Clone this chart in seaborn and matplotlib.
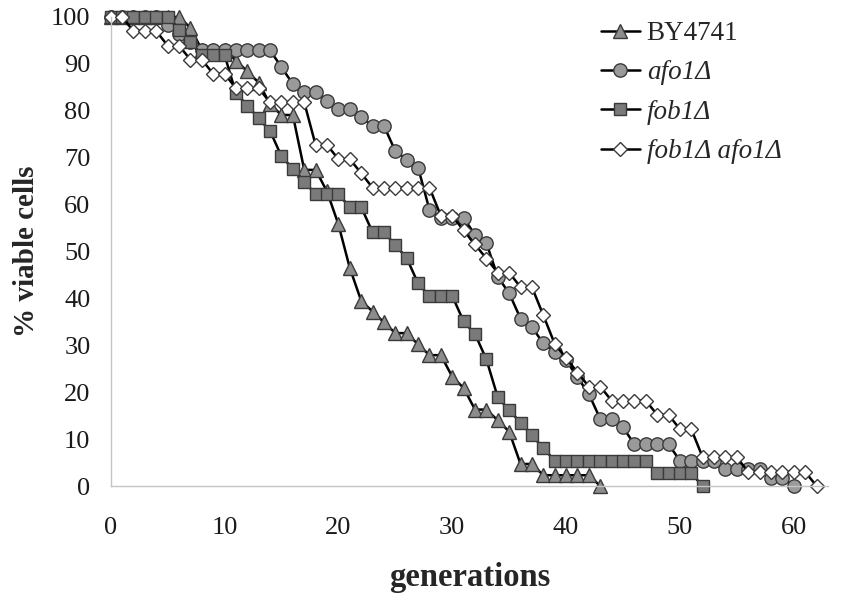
import matplotlib
matplotlib.use("Agg")
import matplotlib.pyplot as plt
import seaborn as sns

# Replicative lifespan survival curves (% viable cells per generation)
by4741_gen = [0, 1, 2, 3, 4, 5, 6, 7, 8, 9, 10, 11, 12, 13, 14, 15, 16, 17, 18, 19,
              20, 21, 22, 23, 24, 25, 26, 27, 28, 29, 30, 31, 32, 33, 34, 35, 36, 37,
              38, 39, 40, 41, 42, 43]
by4741_pct = [100, 100, 100, 100, 100, 100, 100, 97.7, 93.0, 93.0, 93.0, 90.7, 88.4,
              86.0, 81.4, 79.1, 79.1, 67.4, 67.4, 62.8, 55.8, 46.5, 39.5, 37.2, 34.9,
              32.6, 32.6, 30.2, 27.9, 27.9, 23.3, 20.9, 16.3, 16.3, 14.0, 11.6, 4.7,
              4.7, 2.3, 2.3, 2.3, 2.3, 2.3, 0]

afo1_gen = [0, 1, 2, 3, 4, 5, 6, 7, 8, 9, 10, 11, 12, 13, 14, 15, 16, 17, 18, 19, 20,
            21, 22, 23, 24, 25, 26, 27, 28, 29, 30, 31, 32, 33, 34, 35, 36, 37, 38, 39,
            40, 41, 42, 43, 44, 45, 46, 47, 48, 49, 50, 51, 52, 53, 54, 55, 56, 57, 58,
            59, 60]
afo1_pct = [100, 100, 100, 100, 100, 98.2, 96.4, 94.6, 92.9, 92.9, 92.9, 92.9, 92.9,
            92.9, 92.9, 89.3, 85.7, 83.9, 83.9, 82.1, 80.4, 80.4, 78.6, 76.8, 76.8,
            71.4, 69.6, 67.9, 58.9, 57.1, 57.1, 57.1, 53.6, 51.8, 44.6, 41.1, 35.7,
            33.9, 30.4, 28.6, 26.8, 23.2, 19.6, 14.3, 14.3, 12.5, 8.9, 8.9, 8.9, 8.9,
            5.4, 5.4, 5.4, 5.4, 3.6, 3.6, 3.6, 3.6, 1.8, 1.8, 0]

fob1_gen = [0, 1, 2, 3, 4, 5, 6, 7, 8, 9, 10, 11, 12, 13, 14, 15, 16, 17, 18, 19, 20,
            21, 22, 23, 24, 25, 26, 27, 28, 29, 30, 31, 32, 33, 34, 35, 36, 37, 38, 39,
            40, 41, 42, 43, 44, 45, 46, 47, 48, 49, 50, 51, 52]
fob1_pct = [100, 100, 100, 100, 100, 100, 97.3, 94.6, 91.9, 91.9, 91.9, 83.8, 81.1,
            78.4, 75.7, 70.3, 67.6, 64.9, 62.2, 62.2, 62.2, 59.5, 59.5, 54.1, 54.1,
            51.4, 48.6, 43.2, 40.5, 40.5, 40.5, 35.1, 32.4, 27.0, 18.9, 16.2, 13.5,
            10.8, 8.1, 5.4, 5.4, 5.4, 5.4, 5.4, 5.4, 5.4, 5.4, 5.4, 2.7, 2.7, 2.7,
            2.7, 0]

double_gen = [0, 1, 2, 3, 4, 5, 6, 7, 8, 9, 10, 11, 12, 13, 14, 15, 16, 17, 18, 19,
              20, 21, 22, 23, 24, 25, 26, 27, 28, 29, 30, 31, 32, 33, 34, 35, 36, 37,
              38, 39, 40, 41, 42, 43, 44, 45, 46, 47, 48, 49, 50, 51, 52, 53, 54, 55,
              56, 57, 58, 59, 60, 61, 62]
double_pct = [100, 100, 97.0, 97.0, 97.0, 93.9, 93.9, 90.9, 90.9, 87.9, 87.9, 84.8,
              84.8, 84.8, 81.8, 81.8, 81.8, 81.8, 72.7, 72.7, 69.7, 69.7, 66.7, 63.6,
              63.6, 63.6, 63.6, 63.6, 63.6, 57.6, 57.6, 54.5, 51.5, 48.5, 45.5, 45.5,
              42.4, 42.4, 36.4, 30.3, 27.3, 24.2, 21.2, 21.2, 18.2, 18.2, 18.2, 18.2,
              15.2, 15.2, 12.1, 12.1, 6.1, 6.1, 6.1, 6.1, 3.0, 3.0, 3.0, 3.0, 3.0, 3.0,
              0]

series_labels = ["BY4741", "afo1\u0394", "fob1\u0394", "fob1\u0394 afo1\u0394"]
x_ticks = [0, 10, 20, 30, 40, 50, 60]
y_ticks = [0, 10, 20, 30, 40, 50, 60, 70, 80, 90, 100]

sns.set_style("white")
plt.rcParams["font.family"] = ["Liberation Serif", "DejaVu Serif"]

fig = plt.figure(figsize=(8.41, 5.99), dpi=100)
ax = fig.add_axes([0.1316, 0.1886, 0.8529, 0.7831])

edge = "#3a3a3a"
styles = [
    dict(marker="^", markersize=10.5, markerfacecolor="#8c8c8c"),
    dict(marker="o", markersize=9.6, markerfacecolor="#9a9a9a"),
    dict(marker="s", markersize=9.2, markerfacecolor="#7a7a7a"),
    dict(marker="D", markersize=6.8, markerfacecolor="white"),
]
data = [(by4741_gen, by4741_pct), (afo1_gen, afo1_pct),
        (fob1_gen, fob1_pct), (double_gen, double_pct)]

for (gx, gy), lab, st in zip(data, series_labels, styles):
    sns.lineplot(x=gx, y=gy, ax=ax, color="black", linewidth=1.8,
                 markeredgecolor=edge, markeredgewidth=1.0, label=lab,
                 estimator=None, sort=False, clip_on=False, **st)

ax.set_xlim(0, 63)
ax.set_ylim(0, 100)
ax.set_xticks(x_ticks)
ax.set_yticks(y_ticks)

for side in ["top", "right"]:
    ax.spines[side].set_visible(False)
for side in ["left", "bottom"]:
    ax.spines[side].set_color("#c4c4c4")
    ax.spines[side].set_linewidth(1.0)

ax.tick_params(axis="both", direction="out", length=6.5, width=1.0,
               color="#c4c4c4", labelsize=19, labelcolor="#1a1a1a")
ax.tick_params(axis="x", pad=16)
ax.tick_params(axis="y", pad=8)

ax.set_xlabel("generations", fontsize=23.5, fontweight="bold", labelpad=16)
ax.set_ylabel("% viable cells", fontsize=21, fontweight="bold", labelpad=8)

leg = ax.legend(loc="upper left", bbox_to_anchor=(600.7 / 841, 1 - 21 / 599),
                bbox_transform=fig.transFigure, frameon=False, fontsize=19.5,
                handlelength=1.45, handletextpad=0.25, labelspacing=0.53,
                borderpad=0, borderaxespad=0)
for i, txt in enumerate(leg.get_texts()):
    if i > 0:
        txt.set_fontstyle("italic")

fig.savefig("out.png", dpi=100)
